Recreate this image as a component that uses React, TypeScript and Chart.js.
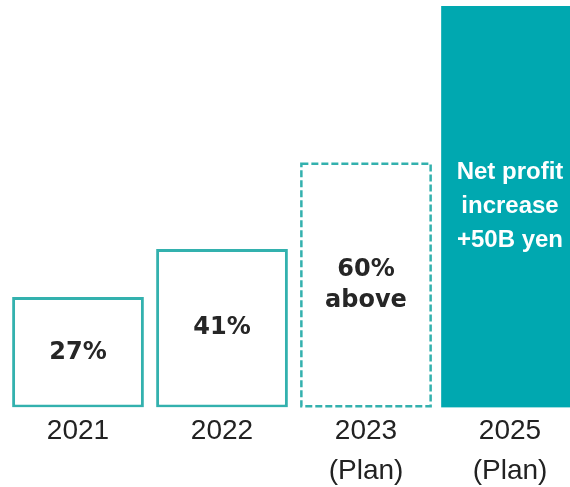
import React, { useEffect, useRef } from "react";
import { Chart, registerables } from "chart.js";

Chart.register(...registerables);

const categories: string[][] = [["2021"], ["2022"], ["2023", "(Plan)"], ["2025", "(Plan)"]];
const actualHeights: (number | null)[] = [27.5, 39.5, null, null];
const planHeights: (number | null)[] = [null, null, 61, null];
const targetHeights: (number | null)[] = [null, null, null, 100];
const insideLabels: string[][] = [["27%"], ["41%"], ["60%", "above"], ["Net profit", "increase", "+50B yen"]];

const TEAL_LINE = "#33B1AE";
const TEAL_FILL = "#00A8B0";

const labelPlugin = {
  id: "insideLabels",
  afterDatasetsDraw(chart: any) {
    const ctx = chart.ctx as CanvasRenderingContext2D;
    chart.data.datasets.forEach((ds: any, di: number) => {
      const meta = chart.getDatasetMeta(di);
      meta.data.forEach((el: any, idx: number) => {
        if (ds.data[idx] == null) return;
        const { x, y, base, width } = el.getProps(["x", "y", "base", "width"], true);
        if (ds.dashed) {
          ctx.save();
          ctx.strokeStyle = TEAL_LINE;
          ctx.lineWidth = 2.5;
          ctx.setLineDash([7, 3]);
          const lw = 2.5;
          ctx.strokeRect(x - width / 2 + lw / 2, y + lw / 2, width - lw, base - y - lw);
          ctx.restore();
        }
        const lines = insideLabels[idx];
        const white = ds.whiteText;
        const fontSize = 24;
        const lh = white ? 34 : 31;
        ctx.save();
        ctx.fillStyle = white ? "#ffffff" : "#262626";
        ctx.font = white
          ? `bold ${fontSize}px "Liberation Sans", Arial, sans-serif`
          : `bold ${fontSize}px "DejaVu Sans", Verdana, sans-serif`;
        ctx.textAlign = "center";
        ctx.textBaseline = "middle";
        const cy = (y + base) / 2;
        const start = cy - ((lines.length - 1) * lh) / 2;
        lines.forEach((t, k) => ctx.fillText(t, x, start + k * lh));
        ctx.restore();
      });
    });
  },
};

function BarChart() {
  const ref = useRef<HTMLCanvasElement | null>(null);
  useEffect(() => {
    if (!ref.current) return;
    const chart = new Chart(ref.current, {
      type: "bar",
      data: {
        labels: categories as any,
        datasets: [
          {
            data: actualHeights,
            backgroundColor: "#ffffff",
            borderColor: TEAL_LINE,
            borderWidth: 3,
            borderSkipped: false,
            grouped: false,
            categoryPercentage: 1,
            barPercentage: 0.915,
          } as any,
          {
            data: planHeights,
            backgroundColor: "#ffffff",
            borderWidth: 0,
            borderSkipped: false,
            grouped: false,
            categoryPercentage: 1,
            barPercentage: 0.915,
            dashed: true,
          } as any,
          {
            data: targetHeights,
            backgroundColor: TEAL_FILL,
            borderWidth: 0,
            borderSkipped: false,
            grouped: false,
            barThickness: 137,
            whiteText: true,
          } as any,
        ],
      },
      options: {
        animation: false,
        responsive: false,
        layout: { padding: { left: 6, top: 6, right: 0, bottom: -8 } },
        plugins: { legend: { display: false }, tooltip: { enabled: false } },
        scales: {
          x: {
            grid: { display: false, drawTicks: false },
            border: { display: false },
            ticks: {
              color: "#222222",
              padding: 4,
              maxRotation: 0,
              autoSkip: false,
              font: { family: '"Liberation Sans", Arial, sans-serif', size: 28, lineHeight: 1.42 },
            },
          },
          y: {
            display: false,
            min: 0,
            max: 100,
          },
        },
      },
      plugins: [labelPlugin],
    });
    return () => chart.destroy();
  }, []);
  return <canvas ref={ref} width={582} height={487} style={{ display: "block" }} />;
}

export default function App() {
  return (
    <div
      style={{
        position: "fixed",
        left: 0,
        top: 0,
        width: 570,
        height: 487,
        overflow: "hidden",
        background: "#ffffff",
      }}
    >
      <BarChart />
    </div>
  );
}
